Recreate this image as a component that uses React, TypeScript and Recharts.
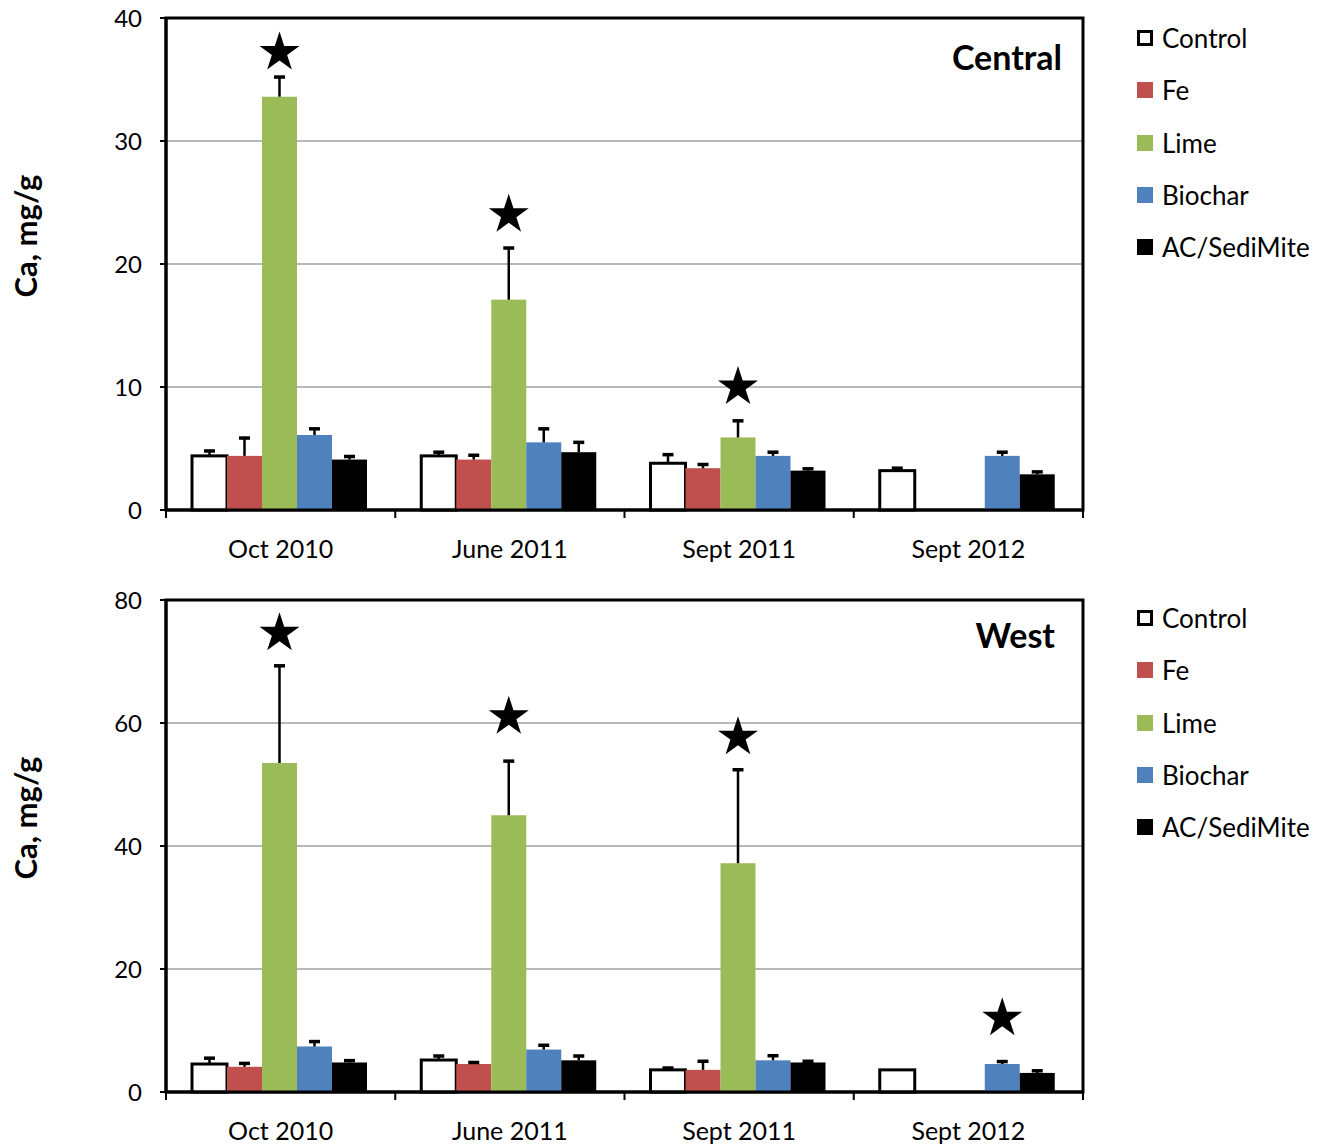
import { BarChart, Bar, XAxis, YAxis, CartesianGrid, Legend, ReferenceArea } from 'recharts';

type Cell = number | null;

// sampling dates (x categories)
const periods = ['Oct 2010', 'June 2011', 'Sept 2011', 'Sept 2012'];

// treatments
const seriesNames = ['Control', 'Fe', 'Lime', 'Biochar', 'AC/SediMite'];
const seriesKeys = ['control', 'fe', 'lime', 'biochar', 'ac'];
const seriesFills = ['#ffffff', '#c0504d', '#9bbb59', '#4f81bd', '#000000'];

// Central plot, Ca mg/g (mean)
const centralControl: Cell[] = [4.4, 4.4, 3.8, 3.2];
const centralFe: Cell[] = [4.4, 4.1, 3.4, null];
const centralLime: Cell[] = [33.6, 17.1, 5.9, null];
const centralBiochar: Cell[] = [6.1, 5.5, 4.4, 4.4];
const centralAc: Cell[] = [4.1, 4.7, 3.2, 2.9];
// Central, upper error (SE)
const centralControlSe: Cell[] = [0.4, 0.3, 0.7, 0.2];
const centralFeSe: Cell[] = [1.45, 0.35, 0.3, null];
const centralLimeSe: Cell[] = [1.6, 4.2, 1.35, null];
const centralBiocharSe: Cell[] = [0.5, 1.1, 0.3, 0.3];
const centralAcSe: Cell[] = [0.25, 0.8, 0.15, 0.2];
// Central, significance star heights
const centralLimeStar: Cell[] = [37.2, 24.0, 10.0, null];
const centralBiocharStar: Cell[] = [null, null, null, null];

// West plot, Ca mg/g (mean)
const westControl: Cell[] = [4.55, 5.2, 3.6, 3.6];
const westFe: Cell[] = [4.1, 4.55, 3.6, null];
const westLime: Cell[] = [53.5, 45.0, 37.2, null];
const westBiochar: Cell[] = [7.4, 6.9, 5.15, 4.55];
const westAc: Cell[] = [4.8, 5.15, 4.8, 3.1];
// West, upper error (SE)
const westControlSe: Cell[] = [0.95, 0.65, 0.3, 0];
const westFeSe: Cell[] = [0.55, 0.25, 1.4, null];
const westLimeSe: Cell[] = [15.8, 8.8, 15.2, null];
const westBiocharSe: Cell[] = [0.8, 0.7, 0.75, 0.4];
const westAcSe: Cell[] = [0.3, 0.7, 0.2, 0.35];
// West, significance star heights
const westLimeStar: Cell[] = [74.6, 61.0, 57.7, null];
const westBiocharStar: Cell[] = [null, null, null, 12.0];

const centralTicks = [0, 10, 20, 30, 40];
const westTicks = [0, 20, 40, 60, 80];

const FONT = 'Lato, "Open Sans", sans-serif';
const CHART_W = 1321;
const LEFT_MARGIN = 8;
const Y_AXIS_W = 158;
const LEGEND_W = 180;
const RIGHT_MARGIN = 58;
const BAND = (CHART_W - LEFT_MARGIN - Y_AXIS_W - LEGEND_W - RIGHT_MARGIN) / periods.length;

const noStars: Cell[] = [null, null, null, null];

function starPath(cx: number, cy: number, r: number) {
  const pts: string[] = [];
  for (let i = 0; i < 10; i++) {
    const rad = i % 2 === 0 ? r : r * 0.382;
    const a = -Math.PI / 2 + (i * Math.PI) / 5;
    pts.push(`${cx + rad * Math.cos(a)},${cy + rad * Math.sin(a)}`);
  }
  return `M${pts.join('L')}Z`;
}

// bar + upward error whisker + optional star, all scaled from the bar's own pixel height
function makeShape(values: Cell[], errs: Cell[], stars: Cell[], fill: string, outlined: boolean) {
  return (props: any) => {
    const { x, y, width, height, index } = props;
    const v = values[index];
    if (v == null || !height) return <g />;
    const k = height / v;
    const cx = x + width / 2;
    const e = errs[index];
    const s = stars[index];
    const capY = e ? y - e * k : y;
    return (
      <g>
        <rect
          x={x}
          y={y}
          width={width}
          height={height}
          fill={fill}
          stroke={outlined ? '#000' : 'none'}
          strokeWidth={outlined ? 3 : 0}
        />
        {e ? (
          <g stroke="#000">
            <line x1={cx} x2={cx} y1={y} y2={capY} strokeWidth={2.5} />
            <line x1={cx - 5.5} x2={cx + 5.5} y1={capY} y2={capY} strokeWidth={3.5} />
          </g>
        ) : null}
        {s != null ? <path d={starPath(cx, y - (s - v) * k, 21)} fill="#000" /> : null}
      </g>
    );
  };
}

function PeriodTick(props: any) {
  const { x, y, payload, index } = props;
  const half = BAND / 2;
  const last = index === periods.length - 1;
  return (
    <g>
      <line x1={x - half} x2={x - half} y1={y - 8} y2={y} stroke="#000" strokeWidth={2} />
      {last ? <line x1={x + half} x2={x + half} y1={y - 8} y2={y} stroke="#000" strokeWidth={2} /> : null}
      <text x={x} y={y + 40} textAnchor="middle" fontFamily={FONT} fontSize={25} fill="#000">
        {payload.value}
      </text>
    </g>
  );
}

const renderLegend = () => (
  <div style={{ fontFamily: FONT, fontSize: 26, color: '#000' }}>
    {seriesNames.map((name, i) => (
      <div key={name} style={{ display: 'flex', alignItems: 'center', height: 52.3 }}>
        <span
          style={{
            display: 'inline-block',
            width: 16,
            height: 16,
            boxSizing: 'border-box',
            background: seriesFills[i],
            border: i === 0 ? '3px solid #000' : 'none',
            marginRight: 9,
          }}
        />
        <span>{name}</span>
      </div>
    ))}
  </div>
);

interface PanelProps {
  title: string;
  titleX: number;
  titleY: number;
  titleSize: number;
  height: number;
  marginTop: number;
  marginBottom: number;
  yMax: number;
  ticks: number[];
  values: Cell[][];
  errs: Cell[][];
  stars: Cell[][];
}

function Panel({ title, titleX, titleY, titleSize, height, marginTop, marginBottom, yMax, ticks, values, errs, stars }: PanelProps) {
  const rows = periods.map((period, i) => {
    const row: Record<string, string | Cell> = { period };
    seriesKeys.forEach((key, s) => {
      row[key] = values[s][i];
    });
    return row;
  });
  const plotMid = marginTop + (height - marginTop - marginBottom - 50) / 2 - 28;

  return (
    <BarChart
      width={CHART_W}
      height={height}
      data={rows}
      margin={{ top: marginTop, right: RIGHT_MARGIN, bottom: marginBottom, left: LEFT_MARGIN }}
      barCategoryGap={26}
      barGap={0}
    >
      <CartesianGrid vertical={false} stroke="#a0a0a0" strokeWidth={1.5} />
      <XAxis
        dataKey="period"
        interval={0}
        height={50}
        tickSize={8}
        tickMargin={0}
        tickLine={false}
        axisLine={{ stroke: '#000', strokeWidth: 3 }}
        tick={<PeriodTick />}
      />
      <YAxis
        width={Y_AXIS_W}
        domain={[0, yMax]}
        ticks={ticks}
        interval={0}
        tickSize={6}
        tickMargin={18}
        tickLine={{ stroke: '#000', strokeWidth: 2 }}
        axisLine={{ stroke: '#000', strokeWidth: 3 }}
        tick={{ fontFamily: FONT, fontSize: 24, fill: '#000' }}
      />
      <Legend
        layout="vertical"
        verticalAlign="top"
        align="right"
        wrapperStyle={{ top: 12, right: 4, width: LEGEND_W }}
        content={renderLegend}
      />
      {/* plot frame */}
      <ReferenceArea y1={0} y2={yMax} fill="none" stroke="#000" strokeWidth={3} ifOverflow="visible" />
      {seriesKeys.map((key, s) => (
        <Bar
          key={key}
          dataKey={key}
          name={seriesNames[s]}
          fill={seriesFills[s]}
          isAnimationActive={false}
          shape={makeShape(values[s], errs[s], stars[s], seriesFills[s], s === 0)}
        />
      ))}
      <text
        x={37}
        y={plotMid}
        transform={`rotate(-90 37 ${plotMid})`}
        textAnchor="middle"
        fontFamily={FONT}
        fontWeight="bold"
        fontSize={31}
        fill="#000"
      >
        Ca, mg/g
      </text>
      <text x={titleX} y={titleY} textAnchor="end" fontFamily={FONT} fontWeight="bold" fontSize={titleSize} fill="#000">
        {title}
      </text>
    </BarChart>
  );
}

export default function App() {
  return (
    <div style={{ width: CHART_W, margin: '-8px 0 0 -8px', background: '#fff' }}>
      <Panel
        title="Central"
        titleX={1062}
        titleY={70}
        titleSize={34}
        height={580}
        marginTop={18}
        marginBottom={20}
        yMax={40}
        ticks={centralTicks}
        values={[centralControl, centralFe, centralLime, centralBiochar, centralAc]}
        errs={[centralControlSe, centralFeSe, centralLimeSe, centralBiocharSe, centralAcSe]}
        stars={[noStars, noStars, centralLimeStar, centralBiocharStar, noStars]}
      />
      <Panel
        title="West"
        titleX={1055}
        titleY={68}
        titleSize={34}
        height={565}
        marginTop={20}
        marginBottom={3}
        yMax={80}
        ticks={westTicks}
        values={[westControl, westFe, westLime, westBiochar, westAc]}
        errs={[westControlSe, westFeSe, westLimeSe, westBiocharSe, westAcSe]}
        stars={[noStars, noStars, westLimeStar, westBiocharStar, noStars]}
      />
    </div>
  );
}
